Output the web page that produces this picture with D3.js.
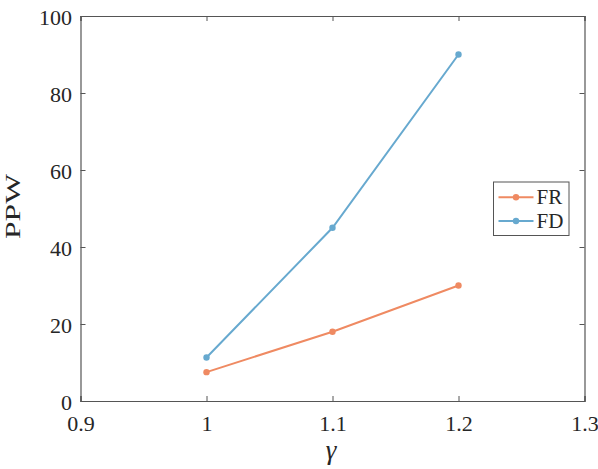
<!DOCTYPE html>
<meta charset="utf-8">
<style>
html, body {
  margin: 0;
  background: #fff;
}
</style>
<svg width="598" height="469" style="font-family:'Liberation Serif'"></svg>
<script src="https://cdn.jsdelivr.net/npm/d3@7"></script>
<script>
// data
const gammas = [1, 1.1, 1.2];
const frValues = [7.5, 18, 30];
const fdValues = [11.3, 45, 90];
const xTicks = [0.9, 1, 1.1, 1.2, 1.3];
const yTicks = [0, 20, 40, 60, 80, 100];
const seriesNames = ['FR', 'FD'];
const seriesColors = ['#ef8a62', '#67a9cf'];

const svg = d3.select('svg');
const margin = {left: 80.5, right: 13.5, top: 16, bottom: 68};
const width = 598, height = 469;

const x = d3.scaleLinear().domain([0.9, 1.3]).range([margin.left, width - margin.right]);
const y = d3.scaleLinear().domain([0, 100]).range([height - margin.bottom, margin.top]);

const axisColor = '#555';
const textColor = '#262626';
const tickLen = 5;

// axes, ticks inside, box all round
const fmt = d => d3.format('')(d);
const gx = svg.append('g')
  .attr('transform', `translate(0,${y(0)})`)
  .call(d3.axisBottom(x).tickValues(xTicks).tickSize(-tickLen).tickFormat(fmt));
const gxTop = svg.append('g')
  .attr('transform', `translate(0,${y(100)})`)
  .call(d3.axisTop(x).tickValues(xTicks).tickSize(-tickLen).tickFormat(''));
const gy = svg.append('g')
  .attr('transform', `translate(${x(0.9)},0)`)
  .call(d3.axisLeft(y).tickValues(yTicks).tickSize(-tickLen).tickFormat(fmt));
const gyRight = svg.append('g')
  .attr('transform', `translate(${x(1.3)},0)`)
  .call(d3.axisRight(y).tickValues(yTicks).tickSize(-tickLen).tickFormat(''));

[gx, gxTop, gy, gyRight].forEach(g => {
  g.attr('font-family', 'Liberation Serif');
  g.select('.domain').attr('stroke', axisColor).attr('stroke-width', 1.2);
  g.selectAll('.tick line').attr('stroke', axisColor).attr('stroke-width', 1);
  g.selectAll('.tick text')
    .attr('font-size', 22)
    .attr('fill', textColor);
});
gx.selectAll('.tick text').attr('y', 30).attr('dy', 0);
gy.selectAll('.tick text').attr('x', -8.5).attr('dy', '0.38em');

// axis labels
svg.append('text')
  .attr('x', 331)
  .attr('y', 459)
  .attr('text-anchor', 'middle')
  .attr('font-size', 27)
  .attr('font-style', 'italic')
  .text('γ');
svg.append('text')
  .attr('transform', `translate(20,${(y(0) + y(100)) / 2 - 2}) rotate(-90)`)
  .attr('text-anchor', 'middle')
  .attr('font-size', 22)
  .attr('textLength', 65)
  .attr('lengthAdjust', 'spacingAndGlyphs')
  .text('PPW');

// lines
const series = [frValues, fdValues];
const line = d3.line().x((d, i) => x(gammas[i])).y(d => y(d));
series.forEach((vals, k) => {
  svg.append('path')
    .datum(vals)
    .attr('fill', 'none')
    .attr('stroke', seriesColors[k])
    .attr('stroke-width', 2)
    .attr('d', line);
  svg.append('g')
    .selectAll('circle')
    .data(vals)
    .join('circle')
    .attr('cx', (d, i) => x(gammas[i]))
    .attr('cy', d => y(d))
    .attr('r', 3.2)
    .attr('fill', seriesColors[k]);
});

// legend
const legend = svg.append('g').attr('transform', 'translate(493.5,182)');
legend.append('rect')
  .attr('width', 75.5)
  .attr('height', 53.5)
  .attr('fill', '#fff')
  .attr('stroke', axisColor)
  .attr('stroke-width', 1);
seriesNames.forEach((name, k) => {
  const row = legend.append('g').attr('transform', `translate(0,${15.3 + k * 23.7})`);
  row.append('line')
    .attr('x1', 5).attr('x2', 40)
    .attr('stroke', seriesColors[k])
    .attr('stroke-width', 2);
  row.append('circle').attr('cx', 22.5).attr('r', 3.2).attr('fill', seriesColors[k]);
  row.append('text')
    .attr('x', 43)
    .attr('y', 7)
    .attr('font-size', 21)
    .text(name);
});

svg.selectAll('text')
  .style('font-family', 'Liberation Serif')
  .attr('fill', textColor);
</script>
